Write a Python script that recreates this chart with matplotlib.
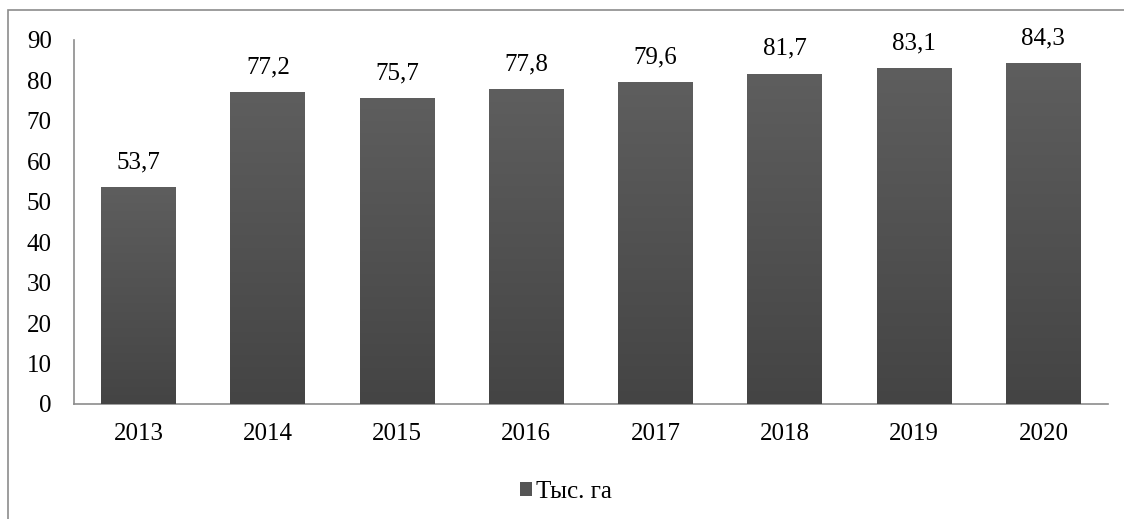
import numpy as np
import matplotlib.pyplot as plt
from matplotlib.patches import Rectangle, Patch
from matplotlib.colors import LinearSegmentedColormap

# Data
years = ['2013', '2014', '2015', '2016', '2017', '2018', '2019', '2020']
values = [53.7, 77.2, 75.7, 77.8, 79.6, 81.7, 83.1, 84.3]
value_labels = ['53,7', '77,2', '75,7', '77,8', '79,6', '81,7', '83,1', '84,3']
series_name = 'Тыс. га'

plt.rcParams['font.family'] = ['Liberation Serif', 'DejaVu Serif']
FS = 18

W, H = 1124, 519
fig = plt.figure(figsize=(W / 100, H / 100), dpi=100)
ax = fig.add_axes([74 / W, 1 - 404 / H, (1108 - 74) / W, (404 - 40) / H])

# outer chart border (only left and top visible in the picture)
fig.add_artist(Rectangle((8 / W, -0.1), 1.2, 1 - 10 / H + 0.1,
                         transform=fig.transFigure, fill=False,
                         edgecolor='#8c8c8c', linewidth=1.2))

x = np.arange(len(years))
bars = ax.bar(x, values, width=0.58, color='#545454', zorder=2)

# vertical gradient inside each bar
cmap = LinearSegmentedColormap.from_list('g', ['#444444', '#5e5e5e'])
grad = np.linspace(0, 1, 256).reshape(-1, 1)
for b in bars:
    bx, by = b.get_x(), b.get_y()
    bw, bh = b.get_width(), b.get_height()
    im = ax.imshow(grad, cmap=cmap, origin='lower', aspect='auto',
                   extent=[bx, bx + bw, by, by + bh], zorder=3)
    im.set_clip_path(b)

for xi, v, lab in zip(x, values, value_labels):
    ax.text(xi, v + 3.4, lab, ha='center', va='bottom', fontsize=FS)

ax.set_xlim(-0.5, len(years) - 0.5)
ax.set_ylim(0, 90)
ax.set_yticks(np.arange(0, 91, 10))
ax.set_xticks(x)
ax.set_xticklabels(years)
ax.tick_params(axis='both', length=0, labelsize=FS)
ax.tick_params(axis='y', pad=16)
ax.tick_params(axis='x', pad=14)
for s in ['top', 'right']:
    ax.spines[s].set_visible(False)
for s in ['left', 'bottom']:
    ax.spines[s].set_color('#8c8c8c')
    ax.spines[s].set_linewidth(1.2)

fig.legend(handles=[Patch(facecolor='#555555', label=series_name)],
           loc='center', bbox_to_anchor=(566 / W, 1 - 492 / H), frameon=False,
           fontsize=FS, handlelength=0.5, handleheight=0.5, handletextpad=0.15)

fig.savefig('out.png', dpi=100)
